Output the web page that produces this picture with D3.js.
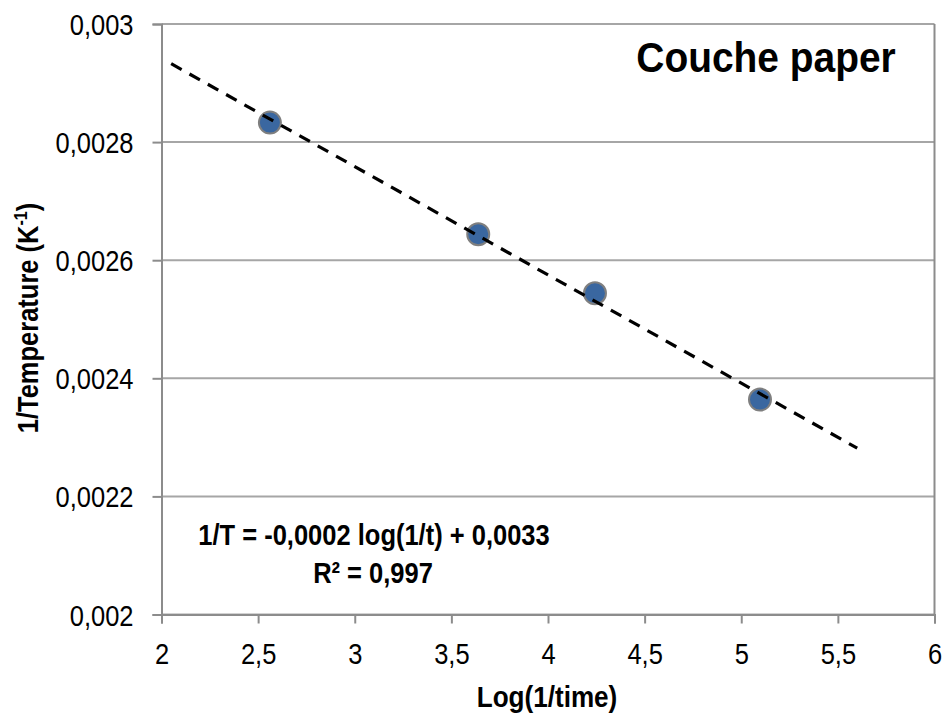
<!DOCTYPE html>
<html>
<head>
<meta charset="utf-8">
<script src="https://cdn.jsdelivr.net/npm/d3@7"></script>
<style>
  html, body { margin: 0; padding: 0; background: #fff; }
  svg { display: block; }
  text { font-family: "Liberation Sans Narrow", "Arial Narrow", "Liberation Sans", Arial, sans-serif; fill: #000; }
</style>
</head>
<body>
<svg id="chart" width="947" height="715"></svg>
<script>
// Measured points: log(1/time) against 1/T
const logInvTime = [2.561, 3.639, 4.243, 5.097];
const invTemp = [0.002833, 0.002644, 0.002544, 0.002364];

const xTicks = [2, 2.5, 3, 3.5, 4, 4.5, 5, 5.5, 6];
const yTicks = [0.002, 0.0022, 0.0024, 0.0026, 0.0028, 0.003];
const trendRange = [2.05, 5.6]; // extent of the fitted line along x

const seriesTitle = 'Couche paper';
const xTitle = 'Log(1/time)';

const svg = d3.select('#chart');
const margin = { top: 24, left: 161.5, right: 12.5, bottom: 100.5 };
const width = 947 - margin.left - margin.right;
const height = 715 - margin.top - margin.bottom;

// condensed look: no narrow face installed, so squeeze horizontally
const NARROW = 0.85;

const loc = d3.formatLocale({ decimal: ',', thousands: '.', grouping: [3], currency: ['', '€'], minus: '-' });
const fmt = loc.format('.2~r');

const x = d3.scaleLinear().domain([2, 6]).range([0, width]);
const y = d3.scaleLinear().domain([0.002, 0.003]).range([height, 0]);

// least-squares fit
const n = logInvTime.length;
const mx = d3.mean(logInvTime), my = d3.mean(invTemp);
let sxy = 0, sxx = 0, syy = 0;
for (let i = 0; i < n; i++) {
  const dx = logInvTime[i] - mx, dy = invTemp[i] - my;
  sxy += dx * dy; sxx += dx * dx; syy += dy * dy;
}
const slope = sxy / sxx;
const intercept = my - slope * mx;
const r2 = (sxy * sxy) / (sxx * syy);

// put a text at (tx, ty) and squeeze it horizontally
function label(parent, tx, ty, str, size, sx, bold) {
  return parent.append('text')
    .attr('transform', `translate(${tx},${ty}) scale(${sx},1)`)
    .attr('text-anchor', 'middle')
    .attr('font-size', size)
    .attr('font-weight', bold ? 'bold' : null)
    .text(str);
}

const g = svg.append('g').attr('transform', `translate(${margin.left},${margin.top})`);

// horizontal gridlines
g.append('g')
  .selectAll('line')
  .data(yTicks)
  .join('line')
  .attr('x1', 0).attr('x2', width)
  .attr('y1', d => y(d)).attr('y2', d => y(d))
  .attr('stroke', '#a6a6a6')
  .attr('stroke-width', 2);

// right border
g.append('line')
  .attr('x1', width).attr('x2', width)
  .attr('y1', 0).attr('y2', height)
  .attr('stroke', '#8c8c8c').attr('stroke-width', 2);

const xAxis = g.append('g')
  .attr('transform', `translate(0,${height})`)
  .call(d3.axisBottom(x).tickValues(xTicks).tickFormat(fmt).tickSize(9).tickPadding(19));
const yAxis = g.append('g')
  .call(d3.axisLeft(y).tickValues(yTicks).tickFormat(fmt).tickSize(9).tickPadding(19));

[xAxis, yAxis].forEach(ax => {
  ax.select('.domain').attr('stroke', '#8c8c8c').attr('stroke-width', 2);
  ax.selectAll('.tick line').attr('stroke', '#8c8c8c').attr('stroke-width', 2);
  ax.selectAll('.tick text')
    .attr('font-size', 30)
    .attr('font-family', null)
    .attr('fill', '#000');
});
xAxis.selectAll('.tick text')
  .attr('transform', `scale(${NARROW},1)`);
yAxis.selectAll('.tick text')
  .attr('transform', `translate(-28,0) scale(${NARROW},1)`)
  .attr('x', 0)
  .attr('dy', '0.35em');

const trendLine = () => g.append('line')
  .attr('x1', x(trendRange[0])).attr('y1', y(slope * trendRange[0] + intercept))
  .attr('x2', x(trendRange[1])).attr('y2', y(slope * trendRange[1] + intercept))
  .attr('stroke', '#000')
  .attr('stroke-width', 3.2)
  .attr('stroke-dasharray', '12,9');

// points
g.append('g')
  .selectAll('circle')
  .data(logInvTime.map((v, i) => [v, invTemp[i]]))
  .join('circle')
  .attr('cx', d => x(d[0]))
  .attr('cy', d => y(d[1]))
  .attr('r', 11)
  .attr('fill', '#3a67a0')
  .attr('stroke', '#7f7f7f')
  .attr('stroke-width', 2);

// dashed fit drawn over the markers
trendLine();

// series label
label(svg, 766, 72, seriesTitle, 43, 0.905, true);

// equation
const fmtSlope = loc.format('.1~r');
const fmtInt = loc.format('.2~r');
label(svg, 374, 545, `1/T = ${fmtSlope(slope)} log(1/t) + ${fmtInt(intercept)}`, 30, NARROW, true);
label(svg, 373, 583, `R² = ${loc.format('.3f')(r2)}`, 30, NARROW, true);

// axis titles
label(svg, 547, 707, xTitle, 30, 0.87, true);

const yTitle = svg.append('text')
  .attr('transform', `translate(38,318) rotate(-90) scale(${NARROW},1)`)
  .attr('text-anchor', 'middle')
  .attr('font-size', 30)
  .attr('font-weight', 'bold');
yTitle.append('tspan').text('1/Temperature (K');
yTitle.append('tspan').attr('font-size', 19).attr('dy', -11).text('-1');
yTitle.append('tspan').attr('dy', 11).text(')');
</script>
</body>
</html>
